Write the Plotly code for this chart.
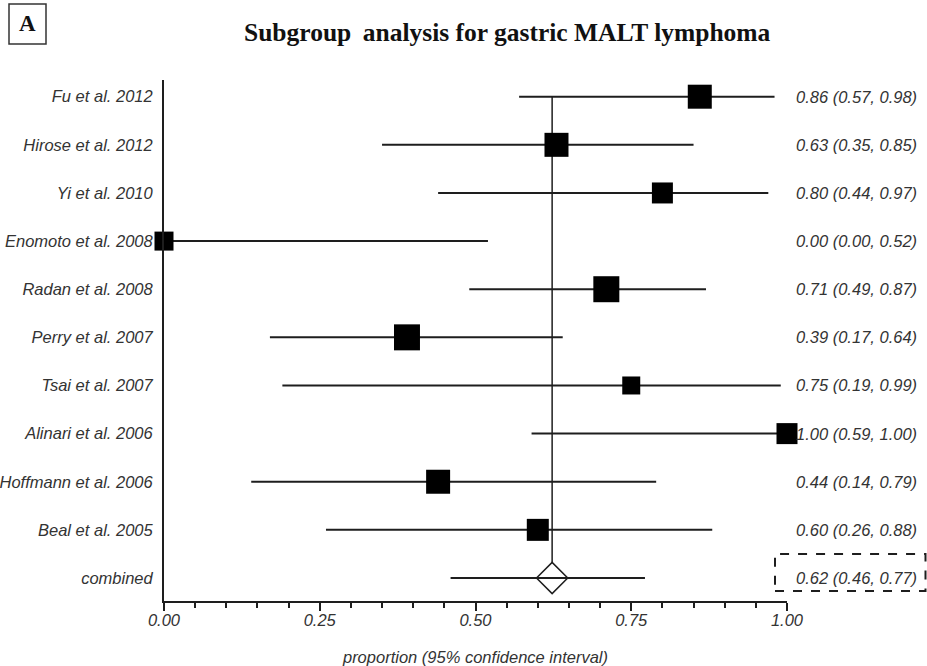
import plotly.graph_objects as go

studies = ["Fu et al. 2012", "Hirose et al. 2012", "Yi et al. 2010", "Enomoto et al. 2008",
           "Radan et al. 2008", "Perry et al. 2007", "Tsai et al. 2007", "Alinari et al. 2006",
           "Hoffmann et al. 2006", "Beal et al. 2005"]
estimate = [0.86, 0.63, 0.80, 0.00, 0.71, 0.39, 0.75, 1.00, 0.44, 0.60]
ci_low = [0.57, 0.35, 0.44, 0.00, 0.49, 0.17, 0.19, 0.59, 0.14, 0.26]
ci_high = [0.98, 0.85, 0.97, 0.52, 0.87, 0.64, 0.99, 1.00, 0.79, 0.88]
weights = [24, 24, 21, 19, 26, 26, 18, 21, 24, 22]  # relative study weights (box size)

pooled_label = "combined"
pooled_est = 0.623
pooled_low = 0.46
pooled_high = 0.772
pooled_text = (0.62, 0.46, 0.77)

xticks = [0.0, 0.25, 0.5, 0.75, 1.0]

n = len(studies)
ypos = [n - i for i in range(n)]
LINE = "#1e1e1e"
TXT = "#333333"

fig = go.Figure()

# CI lines for studies
xs, ys = [], []
for lo, hi, y in zip(ci_low, ci_high, ypos):
    xs += [lo, hi, None]
    ys += [y, y, None]
fig.add_trace(go.Scatter(x=xs, y=ys, mode="lines", line=dict(color=LINE, width=2),
                         hoverinfo="skip", showlegend=False, cliponaxis=False))

# vertical line at pooled estimate
fig.add_trace(go.Scatter(x=[pooled_est, pooled_est], y=[ypos[0], 0], mode="lines",
                         line=dict(color=LINE, width=1.5), showlegend=False, hoverinfo="skip"))

# study boxes
fig.add_trace(go.Scatter(x=estimate, y=ypos, mode="markers",
                         marker=dict(symbol="square", size=weights, color="black",
                                     opacity=1, line=dict(width=0)),
                         showlegend=False, cliponaxis=False))

# pooled diamond
fig.add_trace(go.Scatter(x=[pooled_est], y=[0], mode="markers",
                         marker=dict(symbol="diamond", size=24, color="white", opacity=1,
                                     line=dict(color=LINE, width=1.5)),
                         showlegend=False, cliponaxis=False))
# pooled CI line
fig.add_trace(go.Scatter(x=[pooled_low, pooled_high], y=[0, 0], mode="lines",
                         line=dict(color=LINE, width=2), showlegend=False, hoverinfo="skip"))

# right-side labels
annotations = []
x_right = (919 - 164) / 623
rfont = dict(family="Liberation Sans Narrow, Liberation Sans, Arial", size=16.5, color=TXT,
             style="italic")
for e, lo, hi, y in zip(estimate, ci_low, ci_high, ypos):
    annotations.append(dict(x=x_right, y=y, xref="paper", yref="y", xanchor="right",
                            yanchor="middle", showarrow=False,
                            text=f"{e:.2f} ({lo:.2f}, {hi:.2f})", font=rfont))
annotations.append(dict(x=x_right, y=0, xref="paper", yref="y", xanchor="right",
                        yanchor="middle", showarrow=False,
                        text=f"{pooled_text[0]:.2f} ({pooled_text[1]:.2f}, {pooled_text[2]:.2f})",
                        font=rfont))

# title
annotations.append(dict(x=(507.5 - 164) / 623, y=(601 - 32) / 521, xref="paper", yref="paper",
                        xanchor="center", yanchor="middle", showarrow=False,
                        text="Subgroup\u2009 analysis for gastric MALT lymphoma",
                        font=dict(family="Liberation Serif, Times New Roman", size=25.5,
                                  color="#111111", weight="bold")))
# panel letter
annotations.append(dict(x=(27.5 - 164) / 623, y=(601 - 24) / 521, xref="paper", yref="paper",
                        xanchor="center", yanchor="middle", showarrow=False, text="A",
                        font=dict(family="Liberation Serif, Times New Roman", size=23,
                                  color="#111111", weight="bold")))

shapes = [
    dict(type="rect", xref="paper", yref="paper",
         x0=(9 - 164) / 623, x1=(46 - 164) / 623, y0=(601 - 44) / 521, y1=(601 - 4) / 521,
         line=dict(color="#333333", width=1.5)),
    dict(type="rect", xref="paper", yref="y",
         x0=(775 - 164) / 623, x1=(925.5 - 164) / 623, y0=-0.27, y1=0.5,
         line=dict(color=LINE, width=2, dash="dash")),
]

fig.update_layout(
    width=927, height=666,
    margin=dict(l=164, r=140, t=80, b=65, autoexpand=False),
    plot_bgcolor="white", paper_bgcolor="white",
    annotations=annotations, shapes=shapes,
    xaxis=dict(range=[0, 1], showline=True, linecolor=LINE, linewidth=2,
               showgrid=False, zeroline=False, automargin=False,
               tickvals=xticks, tickformat=".2f", ticks="outside", ticklen=8,
               tickwidth=2, tickcolor=LINE, ticklabelstandoff=-5,
               minor=dict(dtick=0.05, ticks="outside", ticklen=5, tickwidth=2,
                          tickcolor=LINE, showgrid=False),
               tickfont=dict(family="Liberation Sans, Arial", size=16.5, color=TXT, style="italic"),
               title=dict(text="proportion (95% confidence interval)", standoff=27,
                          font=dict(family="Liberation Sans, Arial", size=16.5, color=TXT,
                                    style="italic"))),
    yaxis=dict(range=[-0.478, 10.347], showline=True, linecolor=LINE, linewidth=2,
               showgrid=False, zeroline=False, automargin=False,
               tickvals=ypos + [0], ticktext=studies + [pooled_label],
               ticks="", ticklabelstandoff=6,
               tickfont=dict(family="Liberation Sans, Arial", size=16.5, color=TXT, style="italic")),
)

fig.write_html("out.html")
